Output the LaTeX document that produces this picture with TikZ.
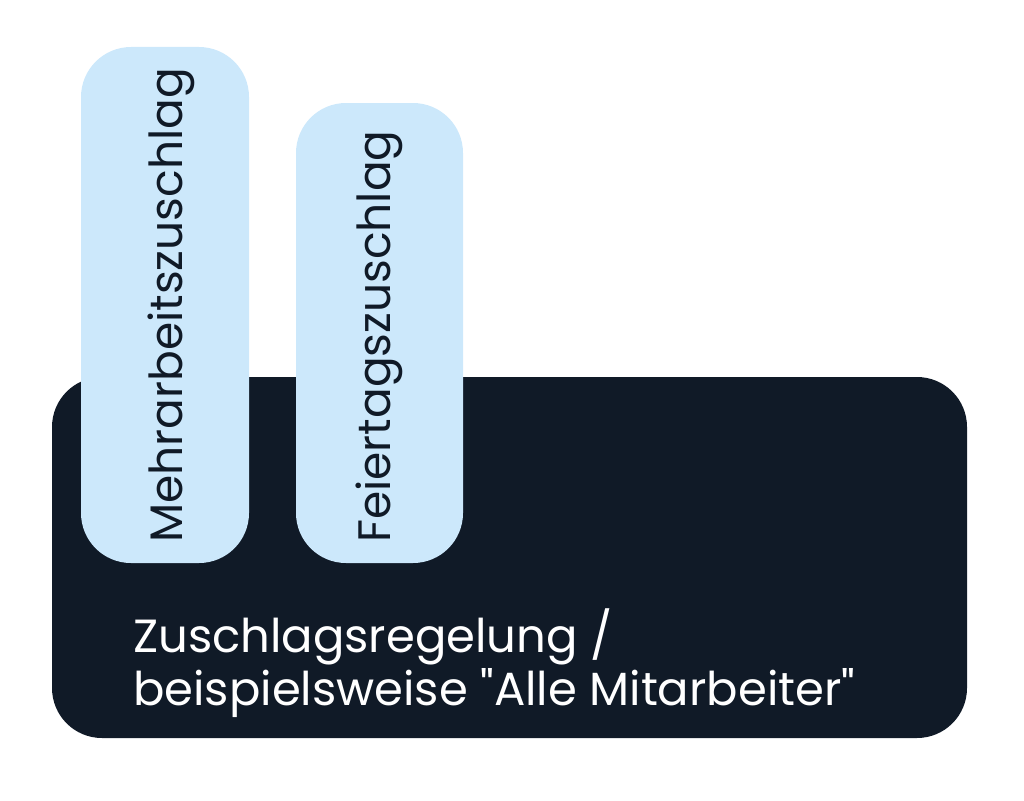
\documentclass[tikz,border=0pt]{standalone}
\usepackage{fontspec}
\setmainfont{Poppins}[Ligatures=TeXOff]
\usetikzlibrary{positioning}
\definecolor{navy}{HTML}{101A27}
\definecolor{lightblue}{HTML}{CCE8FB}

\begin{document}
\begin{tikzpicture}[x=1pt, y=-1pt,
    bar/.style={fill=lightblue, rounded corners=50pt},
    bartext/.style={rotate=90, anchor=base west, inner sep=0pt, text=navy, font=\fontsize{45.5}{55}\selectfont},
    basetext/.style={anchor=base west, inner sep=0pt, text=white, font=\fontsize{46.5}{53}\selectfont}]
        \useasboundingbox (0, 0) rectangle (1024, 800);
        \fill[navy, rounded corners=50pt] (52, 377) rectangle (967, 738);

        \fill[bar] (81, 47) rectangle (249, 563);
        \fill[bar] (296, 103) rectangle (463, 563);
        \node[bartext] at (182, 543) (t_1) {Mehrarbeitszuschlag};
        \node[bartext] at (390, 543) (t_2) {Feiertagszuschlag};

        \node[basetext] at (133, 652) (t_base_1) {Zuschlagsregelung /};
        \node[basetext] at (133, 705) (t_base_2) {beispielsweise "Alle Mitarbeiter"};
\end{tikzpicture}
\end{document}
